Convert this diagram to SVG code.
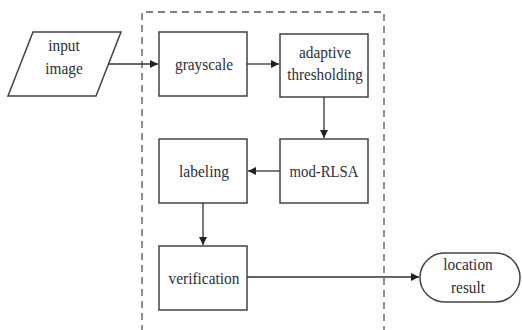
<svg xmlns="http://www.w3.org/2000/svg" width="522" height="330" viewBox="0 0 522 330">
<style>
.shape{fill:#fff;stroke:#444;stroke-width:1.5}
.t{font-family:'Liberation Serif','Times New Roman',serif;font-size:17px;fill:#2e2e38;text-anchor:middle}
.c{fill:none;stroke:#333;stroke-width:1.3}
.dash{fill:none;stroke:#555;stroke-width:1.3;stroke-dasharray:7 5}
</style>
<defs>
<marker id="arr" viewBox="0 0 10 10" refX="10" refY="5" markerWidth="8" markerHeight="8" markerUnits="userSpaceOnUse" orient="auto">
<path d="M0,0 L10,5 L0,10 z" fill="#222"/>
</marker>
</defs>
<rect width="522" height="330" fill="#fff"/>
<path class="dash" d="M142,332 L142,12 L384,12 L384,332"/>
<g id="input">
<polygon class="shape" points="33,32 121,32 96,96 8,96"/>
<text class="t" x="64" y="51" textLength="31.5" lengthAdjust="spacingAndGlyphs">input</text>
<text class="t" x="64" y="74" textLength="37.5" lengthAdjust="spacingAndGlyphs">image</text>
</g>
<g id="grayscale">
<rect class="shape" x="159" y="32" width="88" height="64"/>
<text class="t" x="204" y="70" textLength="58" lengthAdjust="spacingAndGlyphs">grayscale</text>
</g>
<g id="adaptive">
<rect class="shape" x="280" y="34" width="88" height="63"/>
<text class="t" x="325" y="58" textLength="52" lengthAdjust="spacingAndGlyphs">adaptive</text>
<text class="t" x="325" y="80" textLength="75.5" lengthAdjust="spacingAndGlyphs">thresholding</text>
</g>
<g id="modrlsa">
<rect class="shape" x="280" y="139" width="88" height="64"/>
<text class="t" x="324" y="177" textLength="69" lengthAdjust="spacingAndGlyphs">mod-RLSA</text>
</g>
<g id="labeling">
<rect class="shape" x="159" y="139" width="88" height="64"/>
<text class="t" x="204" y="177" textLength="50" lengthAdjust="spacingAndGlyphs">labeling</text>
</g>
<g id="verification">
<rect class="shape" x="159" y="246" width="88" height="64"/>
<text class="t" x="204" y="284" textLength="71" lengthAdjust="spacingAndGlyphs">verification</text>
</g>
<g id="result">
<rect class="shape" x="420" y="253" width="100" height="49" rx="24.5" ry="24.5"/>
<text class="t" x="468" y="270" textLength="49.5" lengthAdjust="spacingAndGlyphs">location</text>
<text class="t" x="468" y="293" textLength="34" lengthAdjust="spacingAndGlyphs">result</text>
</g>
<g id="connectors">
<line class="c" x1="108" y1="64" x2="158" y2="64" marker-end="url(#arr)"/>
<line class="c" x1="247" y1="64" x2="279" y2="64" marker-end="url(#arr)"/>
<line class="c" x1="324" y1="97" x2="324" y2="138" marker-end="url(#arr)"/>
<line class="c" x1="280" y1="171" x2="248" y2="171" marker-end="url(#arr)"/>
<line class="c" x1="203" y1="203" x2="203" y2="245" marker-end="url(#arr)"/>
<line class="c" x1="247" y1="277" x2="419" y2="277" marker-end="url(#arr)"/>
</g>
</svg>
